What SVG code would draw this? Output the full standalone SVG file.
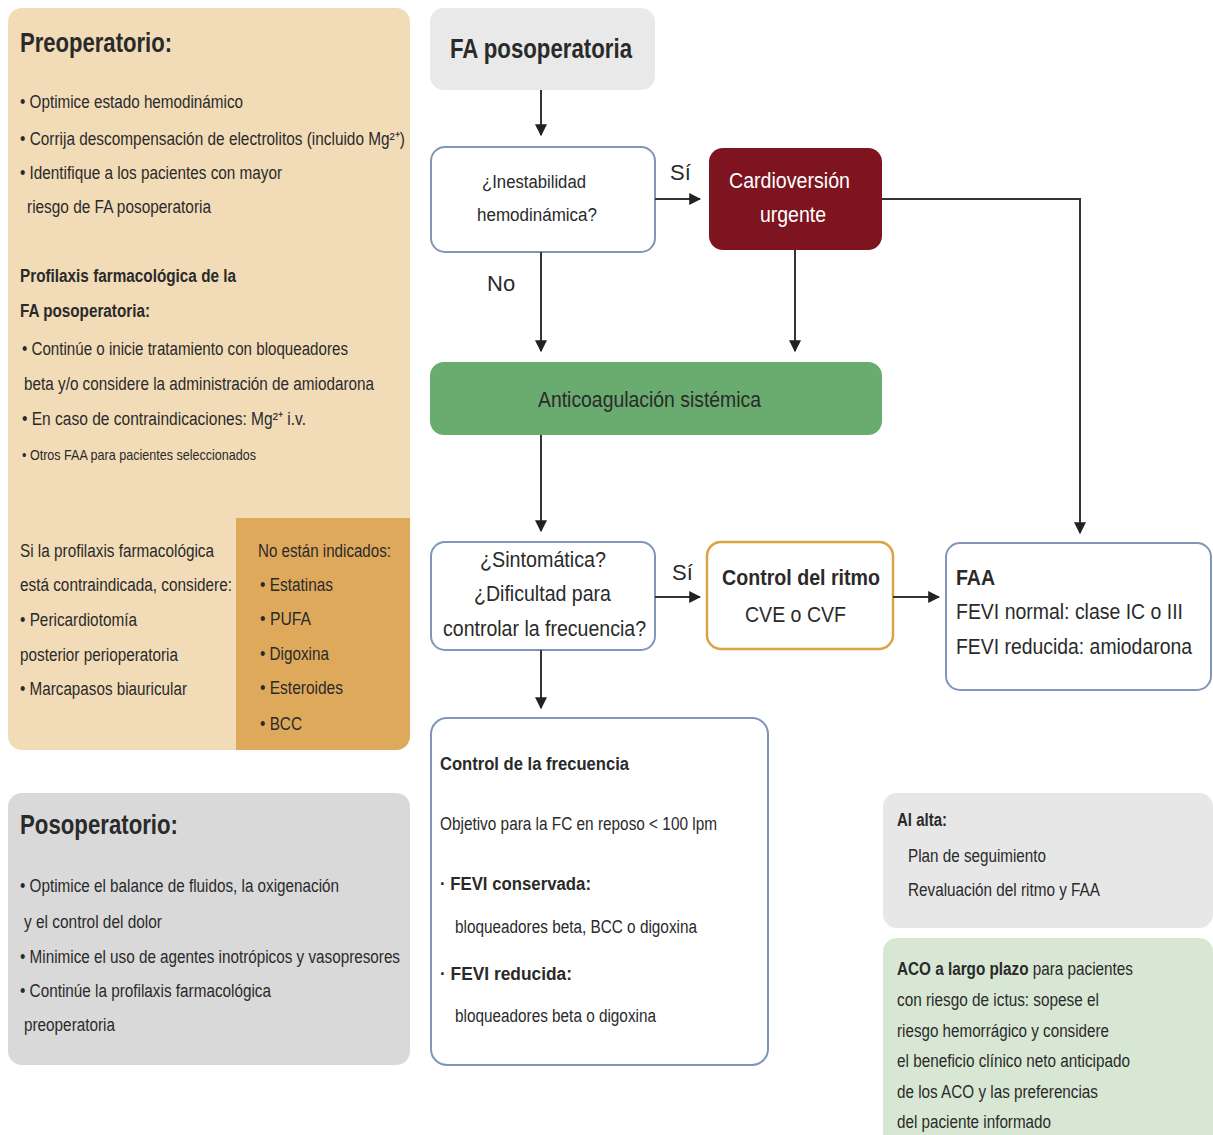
<svg xmlns="http://www.w3.org/2000/svg" width="1213" height="1135" viewBox="0 0 1213 1135">
<defs>
<marker id="ah" viewBox="0 0 10 10" refX="9" refY="5" markerWidth="12" markerHeight="12" markerUnits="userSpaceOnUse" orient="auto">
<path d="M0,0 L10,5 L0,10 z" fill="#222"/>
</marker>
<style>
text{font-family:"Liberation Sans Narrow","Liberation Sans",Arial,sans-serif;fill:#2a2a2a}
.s{font-size:18px}
.xs{font-size:15px}
.m{font-size:22px}
.t{font-size:28px}
.b{font-weight:bold}
.w{fill:#ffffff}
.c{stroke:#333;stroke-width:2;fill:none;marker-end:url(#ah)}
</style>
</defs>
<rect width="1213" height="1135" fill="#ffffff"/>

<g id="preoperatorio">
<rect x="8" y="8" width="402" height="742" rx="14" fill="#f2dcb8"/>
<path d="M236,518 H410 V736 A14,14 0 0 1 396,750 H236 Z" fill="#dfa95c"/>
<text class="t b" x="20" y="52" textLength="152" lengthAdjust="spacingAndGlyphs">Preoperatorio:</text>
<text class="s" x="20" y="108" textLength="223" lengthAdjust="spacingAndGlyphs">• Optimice estado hemodinámico</text>
<text class="s" x="20" y="145" textLength="385" lengthAdjust="spacingAndGlyphs">• Corrija descompensación de electrolitos (incluido Mg²⁺)</text>
<text class="s" x="20" y="179" textLength="262" lengthAdjust="spacingAndGlyphs">• Identifique a los pacientes con mayor</text>
<text class="s" x="27" y="213" textLength="184" lengthAdjust="spacingAndGlyphs">riesgo de FA posoperatoria</text>
<text class="s b" x="20" y="282" textLength="216" lengthAdjust="spacingAndGlyphs">Profilaxis farmacológica de la</text>
<text class="s b" x="20" y="317" textLength="130" lengthAdjust="spacingAndGlyphs">FA posoperatoria:</text>
<text class="s" x="22" y="355" textLength="326" lengthAdjust="spacingAndGlyphs">• Continúe o inicie tratamiento con bloqueadores</text>
<text class="s" x="24" y="390" textLength="350" lengthAdjust="spacingAndGlyphs">beta y/o considere la administración de amiodarona</text>
<text class="s" x="22" y="425" textLength="284" lengthAdjust="spacingAndGlyphs">• En caso de contraindicaciones: Mg²⁺ i.v.</text>
<text class="xs" x="22" y="460" textLength="234" lengthAdjust="spacingAndGlyphs">• Otros FAA para pacientes seleccionados</text>
<text class="s" x="20" y="557" textLength="194" lengthAdjust="spacingAndGlyphs">Si la profilaxis farmacológica</text>
<text class="s" x="20" y="591" textLength="212" lengthAdjust="spacingAndGlyphs">está contraindicada, considere:</text>
<text class="s" x="20" y="626" textLength="117" lengthAdjust="spacingAndGlyphs">• Pericardiotomía</text>
<text class="s" x="20" y="661" textLength="158" lengthAdjust="spacingAndGlyphs">posterior perioperatoria</text>
<text class="s" x="20" y="695" textLength="167" lengthAdjust="spacingAndGlyphs">• Marcapasos biauricular</text>
<text class="s" x="258" y="557" textLength="133" lengthAdjust="spacingAndGlyphs">No están indicados:</text>
<text class="s" x="260" y="591" textLength="73" lengthAdjust="spacingAndGlyphs">• Estatinas</text>
<text class="s" x="260" y="625" textLength="51" lengthAdjust="spacingAndGlyphs">• PUFA</text>
<text class="s" x="260" y="660" textLength="69" lengthAdjust="spacingAndGlyphs">• Digoxina</text>
<text class="s" x="260" y="694" textLength="83" lengthAdjust="spacingAndGlyphs">• Esteroides</text>
<text class="s" x="260" y="730" textLength="42" lengthAdjust="spacingAndGlyphs">• BCC</text>
</g>

<g id="posoperatorio">
<rect x="8" y="793" width="402" height="272" rx="14" fill="#d9d9d9"/>
<text class="t b" x="20" y="834" textLength="158" lengthAdjust="spacingAndGlyphs">Posoperatorio:</text>
<text class="s" x="20" y="892" textLength="319" lengthAdjust="spacingAndGlyphs">• Optimice el balance de fluidos, la oxigenación</text>
<text class="s" x="24" y="928" textLength="138" lengthAdjust="spacingAndGlyphs">y el control del dolor</text>
<text class="s" x="20" y="963" textLength="380" lengthAdjust="spacingAndGlyphs">• Minimice el uso de agentes inotrópicos y vasopresores</text>
<text class="s" x="20" y="997" textLength="251" lengthAdjust="spacingAndGlyphs">• Continúe la profilaxis farmacológica</text>
<text class="s" x="24" y="1031" textLength="91" lengthAdjust="spacingAndGlyphs">preoperatoria</text>
</g>

<g id="fa-posoperatoria">
<rect x="430" y="8" width="225" height="82" rx="14" fill="#e9e9e9"/>
<text class="t b" x="450" y="58" textLength="182" lengthAdjust="spacingAndGlyphs">FA posoperatoria</text>
</g>

<g id="inestabilidad">
<rect x="431" y="147" width="224" height="105" rx="14" fill="#ffffff" stroke="#8096b8" stroke-width="2"/>
<text class="s" x="482" y="188" textLength="104" lengthAdjust="spacingAndGlyphs">¿Inestabilidad</text>
<text class="s" x="477" y="221" textLength="120" lengthAdjust="spacingAndGlyphs">hemodinámica?</text>
</g>

<g id="cardioversion">
<rect x="709" y="148" width="173" height="102" rx="14" fill="#7d1420"/>
<text class="m w" x="729" y="188" textLength="121" lengthAdjust="spacingAndGlyphs">Cardioversión</text>
<text class="m w" x="760" y="222" textLength="66" lengthAdjust="spacingAndGlyphs">urgente</text>
</g>

<g id="anticoagulacion">
<rect x="430" y="362" width="452" height="73" rx="14" fill="#6aab6f"/>
<text class="m" x="538" y="407" textLength="223" lengthAdjust="spacingAndGlyphs">Anticoagulación sistémica</text>
</g>

<g id="sintomatica">
<rect x="431" y="542" width="224" height="108" rx="14" fill="#ffffff" stroke="#8096b8" stroke-width="2"/>
<text class="m" x="480" y="567" textLength="126" lengthAdjust="spacingAndGlyphs">¿Sintomática?</text>
<text class="m" x="474" y="601" textLength="137" lengthAdjust="spacingAndGlyphs">¿Dificultad para</text>
<text class="m" x="443" y="636" textLength="203" lengthAdjust="spacingAndGlyphs">controlar la frecuencia?</text>
</g>

<g id="control-ritmo">
<rect x="707" y="542" width="186" height="107" rx="14" fill="#ffffff" stroke="#d9a441" stroke-width="2.5"/>
<text class="m b" x="722" y="585" textLength="158" lengthAdjust="spacingAndGlyphs">Control del ritmo</text>
<text class="m" x="745" y="622" textLength="101" lengthAdjust="spacingAndGlyphs">CVE o CVF</text>
</g>

<g id="faa">
<rect x="946" y="543" width="265" height="147" rx="14" fill="#ffffff" stroke="#8096b8" stroke-width="2"/>
<text class="m b" x="956" y="585" textLength="39" lengthAdjust="spacingAndGlyphs">FAA</text>
<text class="m" x="956" y="619" textLength="227" lengthAdjust="spacingAndGlyphs">FEVI normal: clase IC o III</text>
<text class="m" x="956" y="654" textLength="236" lengthAdjust="spacingAndGlyphs">FEVI reducida: amiodarona</text>
</g>

<g id="control-frecuencia">
<rect x="431" y="718" width="337" height="347" rx="16" fill="#ffffff" stroke="#8096b8" stroke-width="2"/>
<text class="s b" x="440" y="770" textLength="189" lengthAdjust="spacingAndGlyphs">Control de la frecuencia</text>
<text class="s" x="440" y="830" textLength="277" lengthAdjust="spacingAndGlyphs">Objetivo para la FC en reposo &lt; 100 lpm</text>
<text class="s b" x="440" y="890" textLength="151" lengthAdjust="spacingAndGlyphs">· FEVI conservada:</text>
<text class="s" x="455" y="933" textLength="242" lengthAdjust="spacingAndGlyphs">bloqueadores beta, BCC o digoxina</text>
<text class="s b" x="440" y="980" textLength="132" lengthAdjust="spacingAndGlyphs">·  FEVI reducida:</text>
<text class="s" x="455" y="1022" textLength="201" lengthAdjust="spacingAndGlyphs">bloqueadores beta o digoxina</text>
</g>

<g id="al-alta">
<rect x="883" y="793" width="330" height="135" rx="14" fill="#e7e7e7"/>
<text class="s b" x="897" y="826" textLength="50" lengthAdjust="spacingAndGlyphs">Al alta:</text>
<text class="s" x="908" y="862" textLength="138" lengthAdjust="spacingAndGlyphs">Plan de seguimiento</text>
<text class="s" x="908" y="896" textLength="192" lengthAdjust="spacingAndGlyphs">Revaluación del ritmo y FAA</text>
</g>

<g id="aco">
<rect x="883" y="938" width="330" height="210" rx="14" fill="#d8e7d3"/>
<text class="s" x="897" y="975" textLength="236" lengthAdjust="spacingAndGlyphs"><tspan class="b">ACO a largo plazo</tspan> para pacientes</text>
<text class="s" x="897" y="1006" textLength="202" lengthAdjust="spacingAndGlyphs">con riesgo de ictus: sopese el</text>
<text class="s" x="897" y="1037" textLength="212" lengthAdjust="spacingAndGlyphs">riesgo hemorrágico y considere</text>
<text class="s" x="897" y="1067" textLength="233" lengthAdjust="spacingAndGlyphs">el beneficio clínico neto anticipado</text>
<text class="s" x="897" y="1098" textLength="201" lengthAdjust="spacingAndGlyphs">de los ACO y las preferencias</text>
<text class="s" x="897" y="1128" textLength="154" lengthAdjust="spacingAndGlyphs">del paciente informado</text>
</g>

<g id="connectors">
<path class="c" d="M541,90 V135"/>
<path class="c" d="M655,199 H700"/>
<text class="m" x="670" y="180">Sí</text>
<path class="c" d="M541,252 V351"/>
<text class="m" x="487" y="291">No</text>
<path class="c" d="M795,250 V351"/>
<path class="c" d="M882,199 H1080 V533"/>
<path class="c" d="M541,435 V531"/>
<path class="c" d="M655,597 H700"/>
<text class="m" x="672" y="580">Sí</text>
<path class="c" d="M893,597 H939"/>
<path class="c" d="M541,650 V708"/>
</g>
</svg>
